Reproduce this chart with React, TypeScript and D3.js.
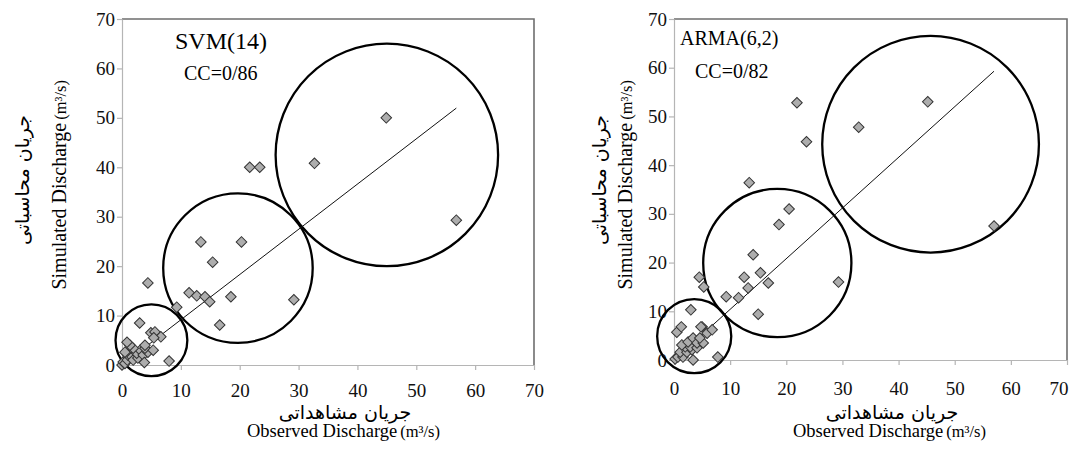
import React from "react";
import * as d3 from "d3";

// axis ticks (both axes, both charts)
const ticks = [0, 10, 20, 30, 40, 50, 60, 70];

// SVM(14) – observed vs simulated
const svmObs = [
  0, 0.2, 0.5, 0.9, 1.0, 0.5, 1.7, 1.9, 2.7, 2.5, 3.1, 3.6, 3.8, 4.4, 3.9, 5.3,
  1.9, 1.35, 0.85, 3.9, 4.9, 5.6, 6.6, 5.4, 3.0, 8.0, 4.4, 9.3,
  11.4, 12.7, 14.1, 14.9, 18.5, 29.2, 16.6, 13.4, 20.3, 15.4,
  21.7, 23.4, 32.7, 44.9, 56.8,
];
const svmSim = [
  0, 0.6, 0.3, 1.0, 2.0, 2.6, 1.6, 1.0, 1.4, 2.4, 3.0, 2.0, 0.5, 2.6, 3.4, 3.0,
  3.4, 4.0, 4.6, 4.0, 6.5, 6.7, 5.7, 5.5, 8.5, 0.8, 16.6, 11.7,
  14.6, 14.0, 13.8, 12.8, 13.8, 13.2, 8.1, 24.9, 24.9, 20.8,
  40, 40, 40.8, 50, 29.3,
];
const svmFit = { slope: 0.915, intercept: 0, from: 0, to: 56.8 };
const svmCircleX = [5.0, 19.7, 45.0];
const svmCircleY = [5.0, 19.6, 42.5];
const svmCircleR = [6.1, 12.7, 18.9];

// ARMA(6,2) – observed vs simulated
const armaObs = [
  0.2, 0.7, 1.6, 1.1, 2.3, 3.2, 2.0, 2.9, 1.4, 2.5, 4.1, 3.4, 4.1, 5.2, 4.6, 5.9,
  5.0, 6.8, 4.8, 3.4, 7.8, 0.5, 1.3, 3.0, 4.5, 5.3, 9.3,
  11.5, 13.2, 12.5, 15.4, 16.8, 14.1, 15.0, 29.3, 18.7, 20.5, 13.4,
  21.9, 23.6, 32.9, 45.2, 57.0,
];
const armaSim = [
  0.2, 0.6, 0.6, 1.6, 1.6, 2.1, 2.7, 2.7, 3.1, 3.7, 2.5, 4.5, 3.5, 3.5, 4.5, 5.5,
  6.8, 6.2, 6.8, 0.0, 0.6, 5.7, 6.8, 10.3, 17.0, 15.0, 13.0,
  12.8, 14.8, 17.0, 17.9, 15.8, 21.6, 9.4, 16.0, 27.8, 31.0, 36.4,
  52.8, 44.8, 47.8, 53.0, 27.5,
];
const armaFit = { slope: 1.04, intercept: 0, from: 0, to: 57 };
const armaCircleX = [3.6, 18.4, 45.7];
const armaCircleY = [4.9, 19.9, 44.3];
const armaCircleR = [6.6, 13.2, 19.3];

const panels = [
  {
    title: "SVM(14)", cc: "CC=0/86", titleSize: 24,
    obs: svmObs, sim: svmSim, fit: svmFit,
    cx: svmCircleX, cy: svmCircleY, cr: svmCircleR,
    left: 122, right: 534, top: 19, bottom: 365, xPad: 14,
    titleX: 175, titleY: 49, ccX: 184, ccY: 80,
    yLabX: 66, faYX: 29, xLabX: 247, faXX: 345,
  },
  {
    title: "ARMA(6,2)", cc: "CC=0/82", titleSize: 20,
    obs: armaObs, sim: armaSim, fit: armaFit,
    cx: armaCircleX, cy: armaCircleY, cr: armaCircleR,
    left: 674, right: 1067, top: 19, bottom: 360, xPad: 17,
    titleX: 680, titleY: 45, ccX: 695, ccY: 78,
    yLabX: 632, faYX: 606, xLabX: 793, faXX: 892,
  },
];

const serif = "Liberation Serif, Times New Roman, serif";
const farsi = "DejaVu Sans, sans-serif";
const W = 1078;
const H = 463;

const App = () => {
  const svgRef = React.useRef<SVGSVGElement>(null);

  React.useEffect(() => {
    const svg = d3.select(svgRef.current);
    svg.selectAll("*").remove();

    panels.forEach((p) => {
      const g = svg.append("g");
      const x = d3.scaleLinear().domain([0, 70]).range([p.left, p.right]);
      const y = d3.scaleLinear().domain([0, 70]).range([p.bottom, p.top]);

      // top & right border of plot area
      g.append("path")
        .attr("d", `M${p.left},${p.top}H${p.right}V${p.bottom}`)
        .attr("fill", "none")
        .attr("stroke", "#6e6e6e")
        .attr("stroke-width", 1.6);

      // y axis
      const yAxis = g
        .append("g")
        .attr("transform", `translate(${p.left},0)`)
        .call(d3.axisLeft(y).tickValues(ticks).tickSize(5).tickSizeOuter(0).tickPadding(2));
      // x axis
      const xAxis = g
        .append("g")
        .attr("transform", `translate(0,${p.bottom})`)
        .call(d3.axisBottom(x).tickValues(ticks).tickSize(5).tickSizeOuter(0).tickPadding(p.xPad));

      [yAxis, xAxis].forEach((a) => {
        a.attr("font-family", serif).attr("font-size", 19);
        a.select(".domain").attr("stroke", "#b5b5b5").attr("stroke-width", 1.2);
        a.selectAll(".tick line").attr("stroke", "#b5b5b5").attr("stroke-width", 1.2);
        a.selectAll("text")
          .attr("fill", "#111")
          .style("font-family", serif);
      });
      // keep the last label inside the picture
      xAxis.selectAll<SVGTextElement, number>("text").each(function (d) {
        if (x(d) + 10 > W - 6) d3.select(this).attr("text-anchor", "end").attr("x", 1);
      });

      // circles
      p.cx.forEach((c, i) => {
        g.append("circle")
          .attr("cx", x(c))
          .attr("cy", y(p.cy[i]))
          .attr("r", x(p.cr[i]) - x(0))
          .attr("fill", "none")
          .attr("stroke", "#000")
          .attr("stroke-width", 2.3);
      });

      // regression line
      const f = p.fit;
      g.append("line")
        .attr("x1", x(f.from))
        .attr("y1", y(f.intercept + f.slope * f.from))
        .attr("x2", x(f.to))
        .attr("y2", y(f.intercept + f.slope * f.to))
        .attr("stroke", "#111")
        .attr("stroke-width", 1);

      // points
      const sym = d3.symbol().type(d3.symbolSquare).size(56);
      g.selectAll(".pt")
        .data(p.obs.map((o, i) => [o, p.sim[i]]))
        .join("path")
        .attr("class", "pt")
        .attr("d", sym)
        .attr("transform", (d) => `translate(${x(d[0])},${y(d[1])}) rotate(45)`)
        .attr("fill", "#adadad")
        .attr("stroke", "#333")
        .attr("stroke-width", 1);

      // annotations
      g.append("text")
        .attr("x", p.titleX)
        .attr("y", p.titleY)
        .attr("font-family", serif)
        .attr("font-size", p.titleSize)
        .text(p.title);
      g.append("text")
        .attr("x", p.ccX)
        .attr("y", p.ccY)
        .attr("font-family", serif)
        .attr("font-size", 20)
        .text(p.cc);

      // x labels
      g.append("text")
        .attr("x", p.faXX)
        .attr("y", 419)
        .attr("text-anchor", "middle")
        .attr("font-family", farsi)
        .attr("font-size", 19)
        .text("جریان مشاهداتی");
      const xl = g
        .append("text")
        .attr("x", p.xLabX)
        .attr("y", 437)
        .attr("font-family", serif)
        .attr("font-size", 18.5);
      xl.append("tspan").text("Observed Discharge");
      xl.append("tspan").attr("dx", 3).attr("font-size", 16.5).text("(m³/s)");

      // y labels
      g.append("text")
        .attr("transform", `translate(${p.faYX},180) rotate(-90)`)
        .attr("text-anchor", "middle")
        .attr("font-family", farsi)
        .attr("font-size", 19)
        .text("جریان محاسباتی");
      const yl = g
        .append("text")
        .attr("transform", `translate(${p.yLabX},80) rotate(-90)`)
        .attr("text-anchor", "end")
        .attr("font-family", serif)
        .attr("font-size", 20);
      yl.append("tspan").text("Simulated Discharge");
      yl.append("tspan").attr("dx", 3).attr("font-size", 16.5).text("(m³/s)");
    });
  }, []);

  return (
    <svg
      ref={svgRef}
      width={W}
      height={H}
      style={{ position: "absolute", left: 0, top: 0, background: "#fff" }}
    />
  );
};

export default App;
